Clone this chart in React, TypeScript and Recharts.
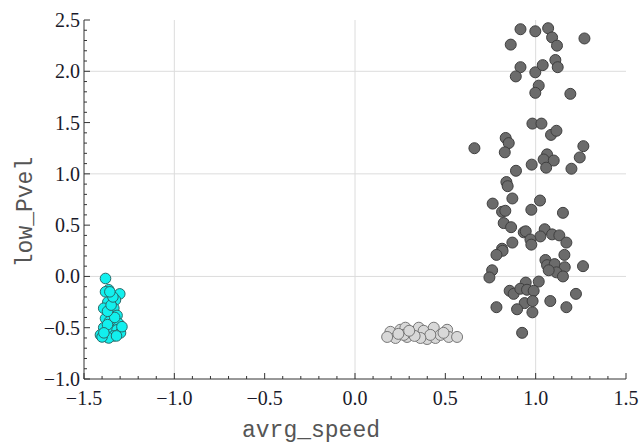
import React from "react";
import {
  ScatterChart,
  Scatter,
  XAxis,
  YAxis,
  ReferenceLine,
} from "recharts";

// point clusters, [avrg_speed, low_Pvel]
const cyanPoints: [number, number][] = [
  [-1.381, -0.02], [-1.363, -0.13], [-1.302, -0.17], [-1.381, -0.15],
  [-1.368, -0.25], [-1.326, -0.23], [-1.391, -0.31], [-1.335, -0.31],
  [-1.354, -0.38], [-1.317, -0.38], [-1.381, -0.41], [-1.344, -0.47],
  [-1.308, -0.46], [-1.391, -0.50], [-1.354, -0.54], [-1.317, -0.52],
  [-1.409, -0.57], [-1.372, -0.59], [-1.335, -0.58], [-1.298, -0.55],
  [-1.290, -0.49], [-1.363, -0.60], [-1.400, -0.59], [-1.360, -0.44],
  [-1.330, -0.40], [-1.370, -0.34], [-1.350, -0.28], [-1.340, -0.20],
  [-1.370, -0.47], [-1.320, -0.58], [-1.390, -0.55], [-1.357, -0.15],
];

const lightPoints: [number, number][] = [
  [0.196, -0.54], [0.224, -0.60], [0.251, -0.52], [0.279, -0.50],
  [0.288, -0.59], [0.316, -0.54], [0.344, -0.57], [0.353, -0.50],
  [0.380, -0.53], [0.399, -0.61], [0.436, -0.50], [0.445, -0.60],
  [0.473, -0.57], [0.510, -0.52], [0.519, -0.59], [0.565, -0.59],
  [0.417, -0.57], [0.178, -0.59], [0.362, -0.60], [0.270, -0.57],
  [0.240, -0.56], [0.330, -0.58], [0.490, -0.55], [0.300, -0.53],
];

const darkPoints: [number, number][] = [
  [0.916, 2.41], [0.998, 2.39], [1.069, 2.42], [1.091, 2.33], [1.118, 2.25],
  [1.270, 2.32], [0.862, 2.26], [0.916, 2.04], [0.890, 1.95], [0.998, 1.99],
  [1.039, 2.06], [1.109, 2.11], [1.122, 2.04], [1.017, 1.86], [0.998, 1.79],
  [1.192, 1.78], [0.982, 1.49], [1.032, 1.49], [1.085, 1.38], [1.115, 1.42],
  [0.834, 1.35], [0.851, 1.30], [0.661, 1.25], [0.829, 1.21], [1.264, 1.27],
  [1.244, 1.16], [1.063, 1.19], [1.044, 1.14], [1.100, 1.13], [1.058, 1.06],
  [0.978, 1.09], [1.198, 1.05], [0.891, 1.03], [0.838, 0.92], [0.845, 0.88],
  [0.871, 0.76], [0.762, 0.71], [1.024, 0.74], [0.814, 0.63], [0.832, 0.64],
  [0.976, 0.65], [1.151, 0.62], [0.823, 0.52], [0.864, 0.48], [0.871, 0.33],
  [0.934, 0.43], [0.945, 0.44], [1.050, 0.46], [1.026, 0.39], [1.091, 0.41],
  [1.131, 0.40], [1.170, 0.33], [0.971, 0.36], [0.976, 0.31], [0.814, 0.27],
  [0.817, 0.25], [0.783, 0.21], [1.159, 0.21], [1.054, 0.16], [1.063, 0.11],
  [1.105, 0.12], [1.161, 0.09], [1.115, 0.04], [1.151, 0.00], [1.072, 0.06],
  [1.262, 0.10], [0.759, 0.06], [0.744, -0.01], [1.017, -0.05], [0.945, -0.06],
  [0.856, -0.14], [0.878, -0.17], [0.915, -0.12], [0.952, -0.13], [0.989, -0.14],
  [0.939, -0.26], [0.983, -0.24], [1.081, -0.24], [1.223, -0.17], [0.783, -0.30],
  [0.897, -0.32], [0.982, -0.35], [1.170, -0.30], [0.925, -0.55],
];

const xMajor = [-1.5, -1, -0.5, 0, 0.5, 1, 1.5];
const yMajor = [-1, -0.5, 0, 0.5, 1, 1.5, 2, 2.5];
const xGrid = [-1, 0, 1];
const yGrid = [0, 1, 2];

// minor ticks every 0.1
const minorTicks = (from: number, to: number) =>
  Array.from({ length: Math.round((to - from) * 10) + 1 }, (_, i) =>
    Math.round((from + i * 0.1) * 10) / 10
  );

const toRows = (pts: [number, number][]) => pts.map(([x, y]) => ({ x, y }));

const fmt = (v: number) => {
  const s = Math.abs(v).toFixed(1);
  return v < 0 ? "\u2212" + s : s;
};

const tickStyle = {
  fontFamily: '"Liberation Serif", "Times New Roman", Tinos, "DejaVu Serif", serif',
  fontSize: 20,
  fill: "#1a1a2a",
};
const titleStyle = {
  fontFamily: '"Liberation Mono", "Courier New", Cousine, "DejaVu Sans Mono", monospace',
  fontSize: 23,
  fill: "#555",
};
const AXIS_COLOR = "#333";

const XTick = (props: any) => {
  const { x, y, payload } = props;
  const major = xMajor.some((m) => Math.abs(m - payload.value) < 1e-6);
  return (
    <g>
      <line x1={x} x2={x} y1={y} y2={y - (major ? 6 : 3)} stroke={AXIS_COLOR} />
      {major && (
        <text x={x} y={y + 26} textAnchor="middle" style={tickStyle}>
          {fmt(payload.value)}
        </text>
      )}
    </g>
  );
};

const YTick = (props: any) => {
  const { x, y, payload } = props;
  const major = yMajor.some((m) => Math.abs(m - payload.value) < 1e-6);
  return (
    <g>
      <line x1={x} x2={x + (major ? 6 : 3)} y1={y} y2={y} stroke={AXIS_COLOR} />
      {major && (
        <text x={x - 4} y={y + 7} textAnchor="end" style={tickStyle}>
          {fmt(payload.value)}
        </text>
      )}
    </g>
  );
};

const dot = (fill: string, stroke: string, r: number) => (p: any) =>
  <circle cx={p.cx} cy={p.cy} r={r} fill={fill} stroke={stroke} strokeWidth={1} />;

export default function App() {
  return (
    <div style={{ position: "absolute", left: 0, top: 0, background: "#fff" }}>
      <ScatterChart
        width={641}
        height={446}
        margin={{ top: 20, right: 15, bottom: 0, left: 0 }}
      >
        {xGrid.map((v) => (
          <ReferenceLine key={"gx" + v} x={v} stroke="#dcdcdc" strokeWidth={1} />
        ))}
        {yGrid.map((v) => (
          <ReferenceLine key={"gy" + v} y={v} stroke="#dcdcdc" strokeWidth={1} />
        ))}
        <XAxis
          type="number"
          dataKey="x"
          domain={[-1.5, 1.5]}
          ticks={minorTicks(-1.5, 1.5)}
          interval={0}
          height={67}
          tickSize={0}
          tickMargin={0}
          tickLine={false}
          tick={<XTick />}
          stroke={AXIS_COLOR}
          label={() => (
            <text x={311} y={437} textAnchor="middle" style={titleStyle}>
              avrg_speed
            </text>
          )}
        />
        <YAxis
          type="number"
          dataKey="y"
          domain={[-1, 2.5]}
          ticks={minorTicks(-1, 2.5)}
          interval={0}
          width={84}
          tickSize={0}
          tickMargin={0}
          tickLine={false}
          tick={<YTick />}
          stroke={AXIS_COLOR}
          label={() => (
            <text x={0} y={0} transform="translate(32,212) rotate(-90)"
              textAnchor="middle" style={titleStyle}>
              low_Pvel
            </text>
          )}
        />
        <Scatter data={toRows(darkPoints)} isAnimationActive={false}
          shape={dot("#6b6b6b", "#3f3f3f", 5.5)} />
        <Scatter data={toRows(lightPoints)} isAnimationActive={false}
          shape={dot("#d8d8d8", "#777", 5.5)} />
        <Scatter data={toRows(cyanPoints)} isAnimationActive={false}
          shape={dot("#12f0ee", "#2a6a6a", 5.3)} />
      </ScatterChart>
    </div>
  );
}
